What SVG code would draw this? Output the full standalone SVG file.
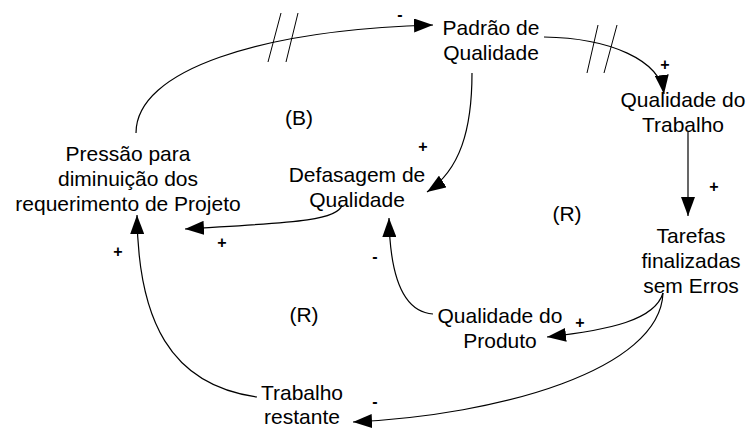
<svg xmlns="http://www.w3.org/2000/svg" width="750" height="428" viewBox="0 0 750 428">
<style>
.lbl{font-family:"Liberation Sans",Arial,sans-serif;font-size:21px;fill:#000;text-anchor:middle}
.sgn{font-family:"Liberation Sans",Arial,sans-serif;font-size:16px;font-weight:bold;fill:#000;text-anchor:middle}
.c{fill:none;stroke:#000;stroke-width:1.2}
.h{stroke:#000;stroke-width:1}
</style>
<defs>
<marker id="ah" markerUnits="userSpaceOnUse" markerWidth="20" markerHeight="14" refX="19" refY="7" orient="auto">
<path d="M0,0 L19,7 L0,14 z" fill="#000"/>
</marker>
</defs>
<rect width="750" height="428" fill="#fff"/>
<g id="connectors">
<path class="c" d="M136,133 C136,70 260,30 433,25" marker-end="url(#ah)"/>
<line class="h" x1="281" y1="13" x2="268" y2="62"/>
<line class="h" x1="298" y1="13" x2="286" y2="62"/>
<path class="c" d="M544,37 C610,38 660,60 664,94" marker-end="url(#ah)"/>
<line class="h" x1="598" y1="25" x2="587" y2="73"/>
<line class="h" x1="617" y1="25" x2="604" y2="73"/>
<path class="c" d="M688,132 L688,216" marker-end="url(#ah)"/>
<path class="c" d="M472,73 C472,130 460,170 427,192" marker-end="url(#ah)"/>
<path class="c" d="M342,205 C338,222 280,223 185,229" marker-end="url(#ah)"/>
<path class="c" d="M257,397 C170,385 138,320 137,215" marker-end="url(#ah)"/>
<path class="c" d="M663,293 C655,320 610,330 547,337" marker-end="url(#ah)"/>
<path class="c" d="M433,314 C405,312 390,280 389,218" marker-end="url(#ah)"/>
<path class="c" d="M663,293 C660,370 500,415 353,422" marker-end="url(#ah)"/>
<text class="sgn" x="400" y="20">-</text>
<text class="sgn" x="665" y="70">+</text>
<text class="sgn" x="714" y="192">+</text>
<text class="sgn" x="423" y="152">+</text>
<text class="sgn" x="222" y="248">+</text>
<text class="sgn" x="118" y="257">+</text>
<text class="sgn" x="375" y="262">-</text>
<text class="sgn" x="580" y="328">+</text>
<text class="sgn" x="375" y="407">-</text>
</g>
<g id="padrao"><text class="lbl" x="491" y="35">Padrão de</text><text class="lbl" x="491" y="60">Qualidade</text></g>
<g id="qual-trabalho"><text class="lbl" x="683" y="107">Qualidade do</text><text class="lbl" x="683" y="132">Trabalho</text></g>
<g id="tarefas"><text class="lbl" x="691" y="243">Tarefas</text><text class="lbl" x="691" y="268">finalizadas</text><text class="lbl" x="691" y="293">sem Erros</text></g>
<g id="qual-produto"><text class="lbl" x="500" y="323">Qualidade do</text><text class="lbl" x="500" y="348">Produto</text></g>
<g id="trabalho-restante"><text class="lbl" x="302" y="400">Trabalho</text><text class="lbl" x="302" y="424">restante</text></g>
<g id="defasagem"><text class="lbl" x="357" y="182">Defasagem de</text><text class="lbl" x="357" y="207">Qualidade</text></g>
<g id="pressao"><text class="lbl" x="128" y="161">Pressão para</text><text class="lbl" x="128" y="186">diminuição dos</text><text class="lbl" x="128" y="211">requerimento de Projeto</text></g>
<g id="loops"><text class="lbl" x="299" y="125">(B)</text><text class="lbl" x="567" y="221">(R)</text><text class="lbl" x="304" y="322">(R)</text></g>
</svg>
